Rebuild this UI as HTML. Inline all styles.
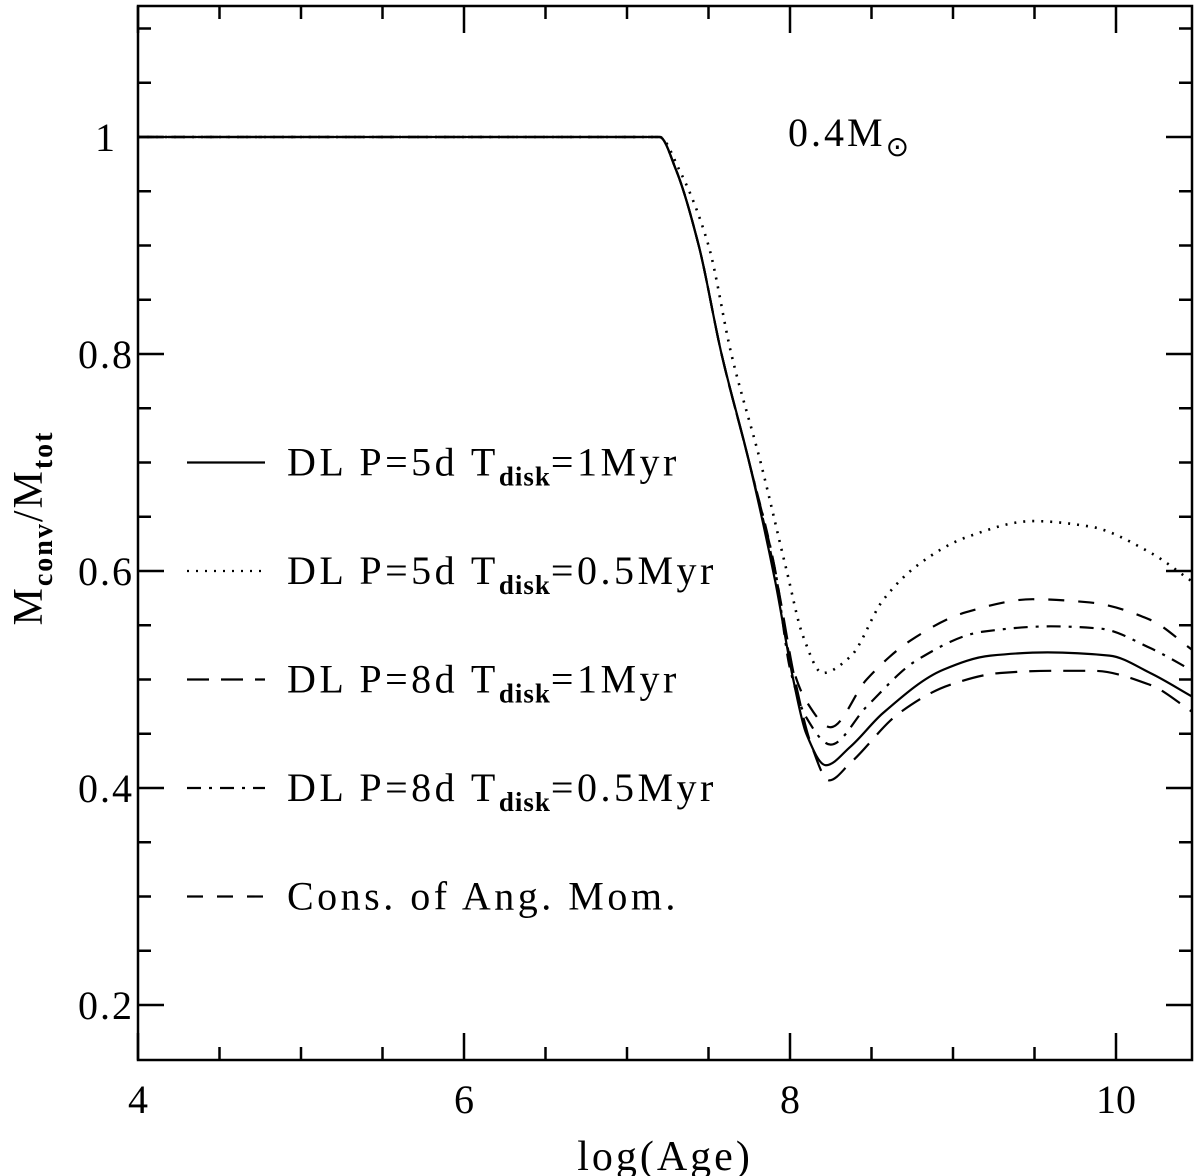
<!DOCTYPE html>
<html><head><meta charset="utf-8"><style>
html,body{margin:0;padding:0;background:#fff}
svg{display:block}
text{font-family:"Liberation Serif",serif;fill:#000}
</style></head><body>
<svg id="chart" width="1200" height="1176" viewBox="0 0 1200 1176" xmlns="http://www.w3.org/2000/svg">
<g id="axes"></g>
<g id="series"></g>
<g id="legend"></g>
<text x="788" y="146" font-size="40" letter-spacing="3">0.4M<tspan font-size="28" dy="10">⊙</tspan></text>
<text x="665" y="1170" font-size="42" letter-spacing="3" text-anchor="middle">log(Age)</text>
<text transform="translate(42,528) rotate(-90)" font-size="42" letter-spacing="2" text-anchor="middle">M<tspan font-size="28" dy="10" font-weight="bold">conv</tspan><tspan dy="-10">/M</tspan><tspan font-size="28" dy="10" font-weight="bold">tot</tspan></text>
</svg>
<script>
const xTicks=[4,6,8,10];
const yTicks=[0.2,0.4,0.6,0.8,1];
const yTickLabels=["0.2","0.4","0.6","0.8","1"];
const solidX=[4,7.2,7.3,7.44,7.58,7.75,7.91,8.02,8.1,8.22,8.37,8.57,8.94,9.23,9.58,9.96,10.21,10.47];
const solidY=[1,1,0.97,0.9,0.8,0.7,0.59,0.5,0.45,0.421,0.438,0.469,0.509,0.522,0.525,0.522,0.506,0.484];
const dottedX=[4,7.2,7.32,7.5,7.64,7.82,7.98,8.08,8.2,8.37,8.57,8.78,9.08,9.49,9.84,10.21,10.47];
const dottedY=[1,1,0.97,0.9,0.8,0.7,0.6,0.54,0.506,0.521,0.573,0.605,0.631,0.646,0.641,0.617,0.59];
const longDashX=[4,7.2,7.3,7.44,7.58,7.75,7.92,8.03,8.13,8.24,8.37,8.67,8.98,9.29,9.6,9.86,10.21,10.47];
const longDashY=[1,1,0.97,0.9,0.8,0.7,0.59,0.5,0.44,0.407,0.423,0.469,0.495,0.506,0.508,0.508,0.495,0.47];
const dashDotX=[4,7.2,7.3,7.44,7.58,7.75,7.91,8.0,8.1,8.25,8.47,8.78,9.18,9.6,9.9,10.21,10.47];
const dashDotY=[1,1,0.97,0.9,0.8,0.7,0.6,0.51,0.465,0.44,0.475,0.518,0.544,0.549,0.547,0.529,0.508];
const shortDashX=[4,7.2,7.3,7.44,7.58,7.75,7.91,8.0,8.1,8.25,8.47,8.74,9.08,9.49,9.84,10.21,10.47];
const shortDashY=[1,1,0.97,0.9,0.8,0.7,0.6,0.52,0.48,0.456,0.5,0.536,0.562,0.574,0.571,0.555,0.527];
const legendLabels=["DL P=5d T|=1Myr","DL P=5d T|=0.5Myr","DL P=8d T|=1Myr","DL P=8d T|=0.5Myr","Cons. of Ang. Mom."];

const L=138,R=1192,T=6,B=1060;
const sx=v=>138+(v-4)*163;
const sy=v=>137+(1-v)*1085;
const NS="http://www.w3.org/2000/svg";
function mk(tag,attrs,parent){const e=document.createElementNS(NS,tag);for(const k in attrs)e.setAttribute(k,attrs[k]);parent.appendChild(e);return e;}
const axes=document.getElementById('axes');
const fr=mk('rect',{x:L,y:T,width:R-L,height:B-T,fill:'none',stroke:'#000','stroke-width':2.5},axes);


for(let v=4;v<=10.45;v+=0.5){
  const x=sx(v);const maj=Math.abs(v-Math.round(v/2)*2)<1e-6;const len=maj?27:13;
  const t1=mk('line',{x1:x,y1:B,x2:x,y2:B-len,stroke:'#000','stroke-width':2.5},axes);
  
  
  const t2=mk('line',{x1:x,y1:T,x2:x,y2:T+len,stroke:'#000','stroke-width':2.5},axes);
  
  
}
xTicks.forEach(v=>{const t=mk('text',{x:sx(v),y:1113,'font-size':40,'text-anchor':'middle'},axes);t.textContent=String(v);
  
  });
for(let i=0;i<=19;i++){
  const v=0.15+i*0.05;const y=sy(v);if(y<T+2||y>B-2)continue;
  const maj=Math.abs(v*5-Math.round(v*5))<1e-6;const len=maj?26:13;
  const a=mk('line',{x1:L,y1:y,x2:L+len,y2:y,stroke:'#000','stroke-width':2.5},axes);
  
  
  const b=mk('line',{x1:R,y1:y,x2:R-len,y2:y,stroke:'#000','stroke-width':2.5},axes);
  
  
}
yTicks.forEach((v,i)=>{const t=mk('text',{x:106,y:sy(v)+14,'font-size':40,'letter-spacing':2,'text-anchor':'middle'},axes);t.textContent=yTickLabels[i];
  
  });

// monotone cubic (Fritsch-Carlson) path
function pathD(xs,ys){
  const n=xs.length;const X=xs.map(sx),Y=ys.map(sy);
  const d=[],m=new Array(n);
  for(let i=0;i<n-1;i++)d.push((Y[i+1]-Y[i])/(X[i+1]-X[i]));
  m[0]=d[0];m[n-1]=d[n-2];
  for(let i=1;i<n-1;i++){
    if(d[i-1]*d[i]<=0)m[i]=0;
    else{const h0=X[i]-X[i-1],h1=X[i+1]-X[i];const w1=2*h1+h0,w2=h1+2*h0;m[i]=(w1+w2)/(w1/d[i-1]+w2/d[i]);}
  }
  let s='M'+X[0]+','+Y[0];
  for(let i=0;i<n-1;i++){
    const h=(X[i+1]-X[i])/3;
    s+=` C${X[i]+h},${Y[i]+m[i]*h} ${X[i+1]-h},${Y[i+1]-m[i+1]*h} ${X[i+1]},${Y[i+1]}`;
  }
  return s;
}
const dashes=["none","2,7","22,12","14,8,3,8","16,14"];
const names=["series-p5-t1","series-p5-t05","series-p8-t1","series-p8-t05","series-cons-ang-mom"];
const data=[[solidX,solidY],[dottedX,dottedY],[longDashX,longDashY],[dashDotX,dashDotY],[shortDashX,shortDashY]];
const sg=document.getElementById('series');
const cp=mk('clipPath',{id:'clip'},sg);mk('rect',{x:L,y:T,width:R-L,height:B-T},cp);
data.forEach((s,i)=>{
  const e=mk('path',{d:pathD(s[0],s[1]),fill:'none',stroke:'#000','stroke-width':i==1?2.6:2.2,'stroke-dasharray':dashes[i],'clip-path':'url(#clip)'},sg);
  
  
});
const lg=document.getElementById('legend');
legendLabels.forEach((lab,i)=>{
  const y=sy(0.7-i*0.1);
  const l=mk('line',{x1:187,y1:y,x2:265,y2:y,stroke:'#000','stroke-width':2.2,'stroke-dasharray':dashes[i]},lg);
  
  
  const t=mk('text',{x:287,y:y+13,'font-size':40,'letter-spacing':3.5},lg);
  
  
  if(lab.indexOf('|')>=0){
    const [a,b]=lab.split('|');
    t.innerHTML=`<tspan>${a}</tspan><tspan font-size="27" font-weight="bold" letter-spacing="1" dy="10">disk</tspan><tspan dy="-10">${b}</tspan>`;
  } else t.textContent=lab;
});
</script>
</body></html>
